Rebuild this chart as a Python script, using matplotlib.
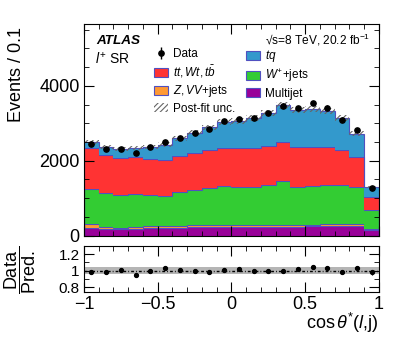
import numpy as np
import matplotlib
matplotlib.use("Agg")
import matplotlib.pyplot as plt
from matplotlib.patches import Patch
from matplotlib.ticker import MultipleLocator

plt.rcParams["font.family"] = "Liberation Sans"
plt.rcParams["mathtext.fontset"] = "custom"
plt.rcParams["mathtext.rm"] = "Liberation Sans"
plt.rcParams["mathtext.it"] = "Liberation Sans:italic"
plt.rcParams["mathtext.bf"] = "Liberation Sans:bold"
plt.rcParams["hatch.linewidth"] = 0.8

# cos theta*(l,j) binning: 20 bins from -1 to 1
edges = np.linspace(-1, 1, 21)

# stacked predictions (events per bin), bottom to top
multijet = [195, 178, 172, 180, 200, 210, 215, 220, 225, 230,
            238, 240, 240, 242, 245, 250, 255, 258, 250, 145]
zvv_jets = [105, 62, 36, 55, 60, 55, 55, 55, 55, 60,
            52, 52, 55, 56, 50, 48, 47, 62, 50, 43]
w_jets = [937, 908, 877, 880, 830, 795, 900, 945, 1000, 1025,
          1008, 1006, 1056, 1169, 1012, 1022, 1053, 1025, 1007, 507]
top_bkg = [1103, 1012, 995, 980, 955, 965, 970, 995, 1010, 1025,
           1033, 1033, 1042, 1040, 1067, 1037, 1002, 940, 800, 345]
tq = [155, 205, 235, 240, 315, 405, 455, 530, 600, 700,
      739, 819, 887, 973, 986, 1023, 973, 855, 613, 267]

data = [2443, 2325, 2320, 2200, 2360, 2500, 2605, 2745, 2841, 3052,
        3115, 3137, 3267, 3470, 3410, 3540, 3420, 3100, 2820, 1280]

# relative post-fit uncertainty: hatch on the stack, grey band in the ratio
unc_rel = [0.025] * 20
band_rel = [0.045] * 20

labels = [r"Multijet", r"$Z,VV$+jets", r"$W^{+}$+jets", r"$tt,Wt,t\bar{b}$", r"$tq$"]
colors = ["#990099", "#ff9933", "#33cc33", "#ff3333", "#3399cc"]
edge_col = "#5050c0"
hatch_col = "#666666"

centers = 0.5 * (edges[1:] + edges[:-1])
width = edges[1] - edges[0]
comps = [multijet, zvv_jets, w_jets, top_bkg, tq]

fig = plt.figure(figsize=(3.99, 3.37), dpi=100)
ax = fig.add_axes([0.2105, 0.3006, 0.7393, 0.6282])
rax = fig.add_axes([0.2105, 0.1335, 0.7393, 0.1365], sharex=ax)

bottom = np.zeros(20)
for vals, col in zip(comps, colors):
    vals = np.array(vals, dtype=float)
    ax.bar(centers, vals, width=width, bottom=bottom, color=col, linewidth=0)
    bottom = bottom + vals
    ax.stairs(bottom, edges, color=edge_col, linewidth=0.8)
total = bottom

unc = total * np.array(unc_rel)
ax.bar(centers, 2 * unc, width=width, bottom=total - unc, fill=False,
       hatch="//////", edgecolor=hatch_col, linewidth=0)

data = np.array(data, dtype=float)
dh = ax.errorbar(centers, data, yerr=np.sqrt(data), fmt="o", color="k",
                 ms=3.8, elinewidth=1, capsize=0)

ax.set_xlim(-1, 1)
ax.set_ylim(0, 5650)
ax.yaxis.set_major_locator(MultipleLocator(2000))
ax.yaxis.set_minor_locator(MultipleLocator(500))
ax.xaxis.set_major_locator(MultipleLocator(0.5))
ax.xaxis.set_minor_locator(MultipleLocator(0.1))
ax.tick_params(which="both", direction="in", top=True, right=True, labelsize=13, pad=3)
ax.tick_params(which="major", length=7)
ax.tick_params(which="minor", length=3.5)
ax.tick_params(axis="x", labelbottom=False)
fig.text(16.5 / 399, (337 - 27) / 337, "Events / 0.1", fontsize=13,
         rotation=90, ha="center", va="top")

ax.text(0.043, 0.905, "ATLAS", transform=ax.transAxes, fontsize=9.7,
        fontweight="bold", fontstyle="italic", va="baseline")
ax.text(0.037, 0.815, r"$l^{+}$ SR", transform=ax.transAxes, fontsize=10, va="baseline")
ax.text(0.969, 0.905, "√s=8 TeV, 20.2 fb$^{-1}$", transform=ax.transAxes,
        fontsize=8.6, ha="right", va="baseline")

def box(col):
    return Patch(facecolor=col, edgecolor=edge_col, linewidth=0.8)

hatch_handle = Patch(facecolor="none", edgecolor=hatch_col, hatch="//////", linewidth=0)
leg_kw = dict(frameon=False, fontsize=8.5, handlelength=1.2, handleheight=0.8,
              handletextpad=0.4, labelspacing=0.28, borderpad=0, borderaxespad=0,
              loc="upper left")
leg1 = ax.legend([dh, box(colors[3]), box(colors[1]), hatch_handle],
                 ["Data", labels[3], labels[1], "Post-fit unc."],
                 bbox_to_anchor=(0.237, 0.885), **leg_kw)
ax.add_artist(leg1)
ax.legend([box(colors[4]), box(colors[2]), box(colors[0])],
          [labels[4], labels[2], labels[0]],
          bbox_to_anchor=(0.549, 0.885), **leg_kw)

# ratio panel
band = np.array(band_rel)
rax.bar(centers, 2 * band, width=width, bottom=1 - band, color="#b5b5b5", linewidth=0)
rax.axhline(1, color="k", lw=1, ls=(0, (2, 1.5, 0.6, 1.5)))
rax.errorbar(centers, data / total, yerr=np.sqrt(data) / total, fmt="o",
             color="k", ms=2.8, elinewidth=0.8, capsize=0)
rax.set_ylim(0.74, 1.3)
rax.yaxis.set_minor_locator(MultipleLocator(0.1))
rax.set_yticks([0.8, 1.0, 1.2])
rax.set_yticklabels(["0.8", "1", "1.2"])
rax.tick_params(which="both", direction="in", top=True, right=True, pad=3)
rax.tick_params(axis="y", labelsize=11)
rax.tick_params(axis="x", labelsize=13)
rax.tick_params(which="major", length=7)
rax.tick_params(which="minor", length=3.5)
rax.set_xticks([-1, -0.5, 0, 0.5, 1])
rax.set_xticklabels(["\u22121", "\u22120.5", "0", "0.5", "1"])
rax.set_xlabel(r"cos$\,\theta^{*}$($l$,j)", fontsize=13, loc="right")
rax.xaxis.set_label_coords(1.0, -0.4)
fig.text(20 / 399, (337 - 270) / 337, r"$\dfrac{\mathrm{Data}}{\mathrm{Pred.}}$",
         rotation=90, fontsize=13, ha="center", va="center")

fig.savefig("out.png", dpi=100)
